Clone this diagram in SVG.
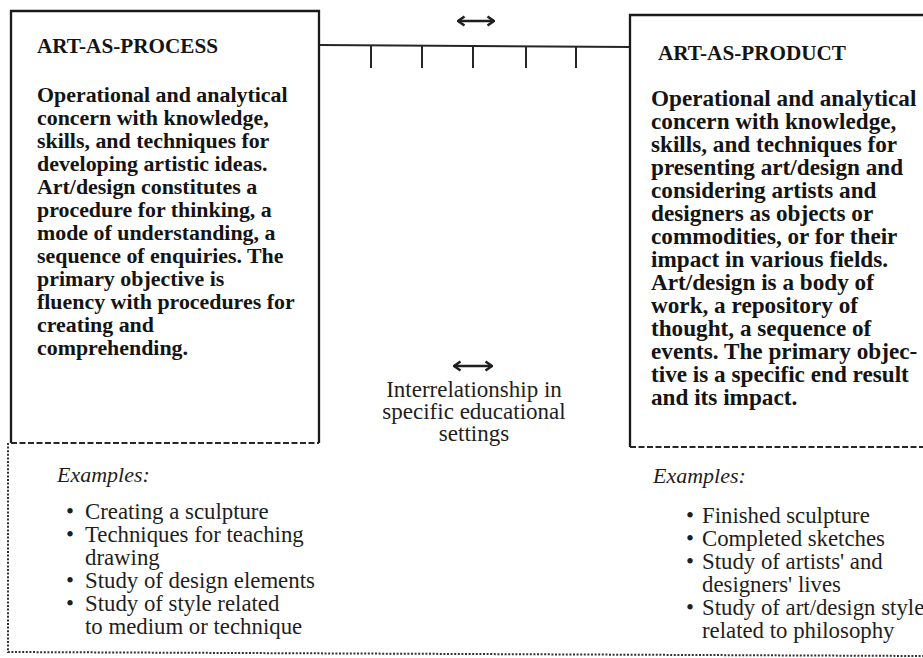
<svg xmlns="http://www.w3.org/2000/svg" width="923" height="658" viewBox="0 0 923 658">
  <style>
    .frame { fill: none; stroke: #1a1a1a; stroke-width: 2.3; }
    .dash { fill: none; stroke: #262626; stroke-width: 2; stroke-dasharray: 6 2.5; }
    .dot { fill: none; stroke: #333; stroke-width: 2; stroke-dasharray: 2 1.6; }
    .conn { fill: none; stroke: #262626; stroke-width: 2; }
    .arrow { fill: none; stroke: #1e1e1e; stroke-width: 2.5; marker-start: url(#chev); marker-end: url(#chev); }
    .title { font-family: "Liberation Serif", serif; font-weight: bold; font-size: 21.2px; fill: #141414; }
    .body { font-family: "Liberation Serif", serif; font-weight: bold; font-size: 21.9px; fill: #141414; }
    .bodyR { font-family: "Liberation Serif", serif; font-weight: bold; font-size: 23.2px; fill: #141414; }
    .ex { font-family: "Liberation Serif", serif; font-style: italic; font-size: 22px; fill: #1e1e1e; }
    .item { font-family: "Liberation Serif", serif; font-size: 22.8px; fill: #1e1e1e; }
    .mid { font-family: "Liberation Serif", serif; font-size: 23px; fill: #1e1e1e; text-anchor: middle; }
  </style>
  <defs>
    <marker id="chev" viewBox="0 0 9 12" refX="8" refY="6" markerWidth="9" markerHeight="12" markerUnits="userSpaceOnUse" orient="auto-start-reverse">
      <path d="M1.5,1.5 L8,6 L1.5,10.5" fill="none" stroke="#1e1e1e" stroke-width="2.5" stroke-linejoin="round"/>
    </marker>
  </defs>

  <rect width="923" height="658" fill="#ffffff"/>

  <!-- dotted outline around both example areas -->
  <g id="examples-frame">
    <path class="dot" d="M8,443 L8,652 L923,656"/>
  </g>

  <!-- linking bar with ticks and the two-way arrows -->
  <g id="connectors">
    <path class="conn" d="M320,45 L630,47"/>
    <path class="conn" d="M371,45 V68 M422,45.5 V68 M473,46 V68 M526,46.5 V68 M576,47 V68"/>
    <path class="arrow" d="M458,21 H494"/>
    <path class="arrow" d="M454,366 H492"/>
  </g>

  <g id="art-as-process">
    <path class="frame" d="M11,443 V11 H319 V443"/>
    <path class="dash" d="M11,443 H319"/>
    <text class="title" x="37" y="53">ART-AS-PROCESS</text>
    <text class="body" x="37" y="102">Operational and analytical</text>
    <text class="body" x="37" y="125">concern with knowledge,</text>
    <text class="body" x="37" y="148">skills, and techniques for</text>
    <text class="body" x="37" y="171">developing artistic ideas.</text>
    <text class="body" x="37" y="194">Art/design constitutes a</text>
    <text class="body" x="37" y="217">procedure for thinking, a</text>
    <text class="body" x="37" y="240">mode of understanding, a</text>
    <text class="body" x="37" y="263">sequence of enquiries. The</text>
    <text class="body" x="37" y="286">primary objective is</text>
    <text class="body" x="37" y="309">fluency with procedures for</text>
    <text class="body" x="37" y="332">creating and</text>
    <text class="body" x="37" y="355">comprehending.</text>
  </g>

  <g id="process-examples">
    <text class="ex" x="57" y="482">Examples:</text>
    <text class="item" x="66" y="519">•</text>
    <text class="item" x="85" y="519">Creating a sculpture</text>
    <text class="item" x="66" y="542">•</text>
    <text class="item" x="85" y="542">Techniques for teaching</text>
    <text class="item" x="85" y="565">drawing</text>
    <text class="item" x="66" y="588">•</text>
    <text class="item" x="85" y="588">Study of design elements</text>
    <text class="item" x="66" y="611">•</text>
    <text class="item" x="85" y="611">Study of style related</text>
    <text class="item" x="85" y="634">to medium or technique</text>
  </g>

  <g id="interrelationship">
    <text class="mid" x="474" y="397">Interrelationship in</text>
    <text class="mid" x="474" y="419">specific educational</text>
    <text class="mid" x="474" y="441">settings</text>
  </g>

  <g id="art-as-product">
    <path class="frame" d="M630,447 V15 H923"/>
    <path class="dash" d="M630,447 H923"/>
    <text class="title" x="658" y="60">ART-AS-PRODUCT</text>
    <text class="bodyR" x="651" y="106">Operational and analytical</text>
    <text class="bodyR" x="651" y="129">concern with knowledge,</text>
    <text class="bodyR" x="651" y="152">skills, and techniques for</text>
    <text class="bodyR" x="651" y="175">presenting art/design and</text>
    <text class="bodyR" x="651" y="198">considering artists and</text>
    <text class="bodyR" x="651" y="221">designers as objects or</text>
    <text class="bodyR" x="651" y="244">commodities, or for their</text>
    <text class="bodyR" x="651" y="267">impact in various fields.</text>
    <text class="bodyR" x="651" y="290">Art/design is a body of</text>
    <text class="bodyR" x="651" y="313">work, a repository of</text>
    <text class="bodyR" x="651" y="336">thought, a sequence of</text>
    <text class="bodyR" x="651" y="359">events. The primary objec-</text>
    <text class="bodyR" x="651" y="382">tive is a specific end result</text>
    <text class="bodyR" x="651" y="405">and its impact.</text>
  </g>

  <g id="product-examples">
    <text class="ex" x="653" y="483">Examples:</text>
    <text class="item" x="686" y="523">•</text>
    <text class="item" x="702" y="523">Finished sculpture</text>
    <text class="item" x="686" y="546">•</text>
    <text class="item" x="702" y="546">Completed sketches</text>
    <text class="item" x="686" y="569">•</text>
    <text class="item" x="702" y="569">Study of artists' and</text>
    <text class="item" x="702" y="592">designers' lives</text>
    <text class="item" x="686" y="615">•</text>
    <text class="item" x="702" y="615">Study of art/design style</text>
    <text class="item" x="702" y="638">related to philosophy</text>
  </g>
</svg>
